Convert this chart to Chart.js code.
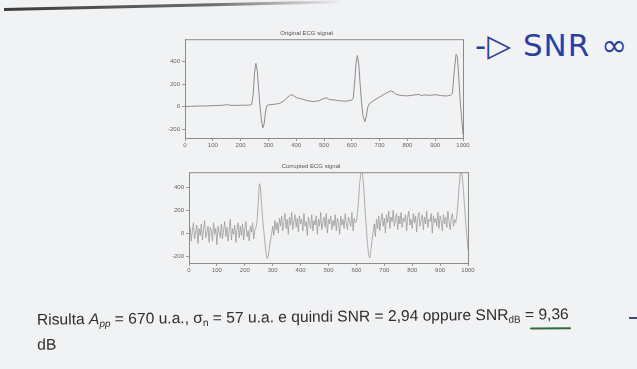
<!DOCTYPE html>
<html>
<head>
<meta charset="utf-8">
<script src="https://cdn.jsdelivr.net/npm/chart.js@4.4.1/dist/chart.umd.min.js"></script>
<style>
  html, body { margin: 0; padding: 0; }
  body {
    width: 637px; height: 369px; overflow: hidden; position: relative;
    background: #f1f2f4;
    font-family: 'Liberation Sans', Arial, sans-serif;
  }
  canvas { position: absolute; }
  #c1 { left: 150px; top: 24px; }
  #c2 { left: 154px; top: 157px; }
  .edge {
    position: absolute; left: 4px; top: 8px; width: 340px; height: 3px;
    background: linear-gradient(to right, #3c3c3c, #6a6a6a 60%, rgba(120,120,120,0));
    transform: rotate(-1.3deg); transform-origin: left center;
  }
  .hand {
    position: absolute; left: 475px; top: 27px; color: #2d3f9c;
    font-family: 'DejaVu Sans', sans-serif; font-size: 31px; white-space: nowrap;
    letter-spacing: 1px;
  }
  .para {
    position: absolute; left: 0; top: 0; width: 637px; height: 369px;
    transform: rotate(-0.6deg); transform-origin: 300px 322px;
  }
  .txt {
    position: absolute; left: 37px; top: 307px; color: #2e2e2e;
    font-size: 15.6px; line-height: 20px; white-space: nowrap;
  }
  .txt sub { font-size: 10px; vertical-align: -3px; }
  .uline {
    position: absolute; left: 530px; top: 330px; width: 41px; height: 2px;
    background: #2f6b3c; border-radius: 1px;
  }
  .dash {
    position: absolute; left: 629px; top: 317px; width: 8px; height: 2px; background: #3d4a7a;
  }
</style>
</head>
<body>
<div class="edge"></div>
<canvas id="c1" width="325" height="128"></canvas>
<canvas id="c2" width="326" height="120"></canvas>
<div class="hand">-▷ SNR ∞</div>
<div class="para">
  <div class="txt">Risulta <i>A</i><sub><i>pp</i></sub> = 670 u.a., σ<sub>n</sub> = 57 u.a. e quindi SNR = 2,94 oppure SNR<sub>dB</sub> = 9,36<br>dB</div>
  <div class="uline"></div>
</div>
<div class="dash"></div>
<script>
// segnale ECG originale (campioni)
const origX = [0, 20, 40, 60, 80, 100, 120, 140, 150, 160, 180, 200, 220, 235, 240, 245, 250, 255, 260, 265,
  270, 275, 280, 285, 290, 295, 300, 320, 340, 355, 370, 380, 390, 400, 420, 440, 460, 480, 500, 510,
  520, 540, 560, 580, 600, 605, 610, 615, 620, 625, 630, 635, 640, 647, 652, 658, 665, 680, 700, 720,
  740, 750, 760, 780, 800, 820, 840, 850, 860, 880, 900, 920, 940, 955, 962, 968, 975, 980, 985, 990,
  995, 1000];
const origY = [0, 2, 4, 5, 6, 8, 10, 12, 18, 12, 10, 12, 12, 14, 20, 100, 300, 385, 320, 150,
  0, -120, -190, -150, -40, 10, 15, 20, 28, 50, 85, 105, 98, 80, 68, 52, 45, 50, 72, 78,
  62, 58, 50, 48, 58, 75, 210, 380, 455, 380, 200, 40, -80, -135, -90, 0, 30, 55, 85, 115,
  140, 130, 108, 98, 95, 102, 108, 98, 104, 100, 106, 98, 94, 100, 120, 300, 465, 440, 250, 50,
  -100, -250];

// segnale corrotto da rumore, un campione ogni 4
const noisyStart = 0;
const noisyStep = 4;
const noisyY = [
  -30, 50, -70, 20, 90, -50, 10, 70, -90, 40,
  -20, 80, -60, 30, 110, -40, 0, 60, -80, 50,
  20, -70, 90, -10, 40, -100, 60, 10, -40, 80,
  -50, 30, 100, -30, 50, -70, 20, 120, -60, 40,
  -10, 70, -80, 30, 90, -40, 60, -20, 80, -60,
  40, 100, -30, 20, -70, 60, 10, 90, -50, 30,
  50,
  100, 260, 430, 400, 250, 120, 20, -80, -170, -220,
  -200, -130, -60, -10, 60, -20, 110, 30, 90,
  0, 130, 60, 150, 20, 100, 170, 40, 120, -10,
  140, 70, 180, 30, 110, 160, 50, 130, 10, 150,
  80, 120, 20, 170, 60, 100, -20, 140, 90, 40,
  160, 20, 110, 70, 150, -10, 120, 60, 180, 30,
  100, 140, 50, 170, 0, 120, 80, 150, 30, 110,
  60, 160, 20, 130, 90, -10, 150, 70, 120, 40,
  170, 80, 30, 140, 100, 60, 180, 20, 130, 90,
  100, 180, 300, 440, 520, 540, 470, 330, 170, 30,
  -100, -190, -215, -150, -60, 10, 80, -30, 120, 40,
  150, 20, 110, 170, 60, 130, 0, 160, 90, 190,
  40, 140, 100, 200, 60, 120, 170, 30, 150, 80,
  180, 50, 130, 100, 160, 20, 140, 190, 70, 120,
  40, 170, 90, 150, 10, 130, 180, 60, 110, 160,
  30, 140, 80, 190, 50, 120, 100, 170, 0, 150,
  90, 130, 60, 180, 40, 150, 110, 20, 160, 80,
  140, 50, 190, 100, 30, 130, 170, 60, 120, 90,
  150, 260, 400, 510, 530, 480, 360, 220, 90, -30, -150
];

const xTicks = [0, 100, 200, 300, 400, 500, 600, 700, 800, 900, 1000];
const yTicks = [-200, 0, 200, 400];

const boxPlugin = {
  id: 'box',
  afterDraw(chart) {
    const a = chart.chartArea, ctx = chart.ctx;
    ctx.save();
    ctx.strokeStyle = '#8a8a8a';
    ctx.lineWidth = 1;
    ctx.strokeRect(a.left + 0.5, a.top + 0.5, a.right - a.left, a.bottom - a.top);
    ctx.restore();
  }
};

function makeChart(id, title, points, yMin, yMax, color, width) {
  const tickFont = { family: 'Liberation Sans', size: 6 };
  return new Chart(document.getElementById(id), {
    type: 'line',
    data: {
      datasets: [{
        data: points,
        borderColor: color,
        borderWidth: width,
        pointRadius: 0,
        tension: 0,
        fill: false
      }]
    },
    options: {
      responsive: false,
      animation: false,
      events: [],
      layout: { padding: { top: 6, right: 12, bottom: 2, left: 0 } },
      plugins: {
        legend: { display: false },
        tooltip: { enabled: false },
        title: {
          display: true,
          text: title,
          color: '#555',
          font: { family: 'Liberation Sans', size: 6, weight: 'normal' },
          padding: { top: 0, bottom: 2 }
        }
      },
      scales: {
        x: {
          type: 'linear',
          min: 0,
          max: 1000,
          afterBuildTicks: (axis) => { axis.ticks = xTicks.map(v => ({ value: v })); },
          afterFit: (axis) => { axis.height = 12; },
          grid: { drawOnChartArea: false, tickLength: 3, color: '#999' },
          border: { color: '#8a8a8a' },
          ticks: { color: '#666', font: tickFont, padding: 1, maxRotation: 0, autoSkip: false,
                   callback: (v) => String(v) }
        },
        y: {
          min: yMin,
          max: yMax,
          afterBuildTicks: (axis) => { axis.ticks = yTicks.map(v => ({ value: v })); },
          afterFit: (axis) => { axis.width = 35; },
          grid: { drawOnChartArea: false, tickLength: 3, color: '#999' },
          border: { color: '#8a8a8a' },
          ticks: { color: '#666', font: tickFont, padding: 2, callback: (v) => String(v) }
        }
      }
    },
    plugins: [boxPlugin]
  });
}

const origPoints = origX.map((x, i) => ({ x: x, y: origY[i] }));
const noisyPoints = noisyY.map((y, i) => ({ x: noisyStart + i * noisyStep, y: y }));

makeChart('c1', 'Original ECG signal', origPoints, -280, 600, '#8c8c8c', 1);
makeChart('c2', 'Corrupted ECG signal', noisyPoints, -260, 530, '#9a9a9a', 0.8);
</script>
</body>
</html>
